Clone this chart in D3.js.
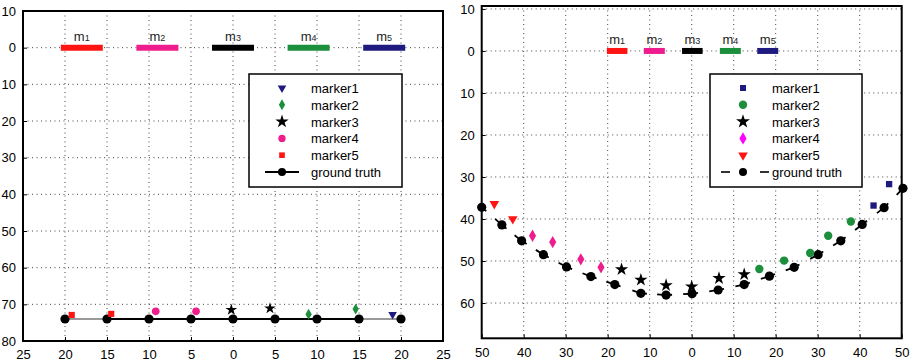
<!DOCTYPE html>
<html>
<head>
<meta charset="utf-8">
<script src="https://cdn.jsdelivr.net/npm/d3@7"></script>
<style>
  body { margin: 0; background: #fff; }
  svg { display: block; font-family: "Liberation Sans", Arial, Helvetica, sans-serif; }
</style>
</head>
<body>
<div id="chart"></div>
<script>
// ---- data ----
const barLabels = ["m", "m", "m", "m", "m"];
const barSubs = ["1", "2", "3", "4", "5"];
const barColors = ["#ff1414", "#ee1c8c", "#000000", "#1b8f3c", "#1f1a80"];
const leftBarFrom = [-20.5, -11.5, -2.5, 6.5, 15.5];
const leftBarTo = [-15.5, -6.5, 2.5, 11.5, 20.5];
const rightBarFrom = [-20.2, -11.4, -2.3, 6.7, 15.6];
const rightBarTo = [-15.3, -6.4, 2.6, 11.7, 20.6];

const legendNames = ["marker1", "marker2", "marker3", "marker4", "marker5", "ground truth"];

// left panel
const leftXTicks = [-25, -20, -15, -10, -5, 0, 5, 10, 15, 20, 25];
const leftYTicks = [-10, 0, 10, 20, 30, 40, 50, 60, 70, 80];
const leftTruthX = [-20, -15, -10, -5, 0, 5, 10, 15, 20];
const leftTruthY = [74, 74, 74, 74, 74, 74, 74, 74, 74];
const leftMarker1 = [[19.0, 72.8]];
const leftMarker2 = [[9.0, 72.7], [14.6, 71.3]];
const leftMarker3 = [[-0.2, 71.5], [4.4, 71.1]];
const leftMarker4 = [[-9.2, 71.9], [-4.4, 71.9]];
const leftMarker5 = [[-19.2, 72.9], [-14.5, 72.6]];

// right panel
const rightXTicks = [-50, -40, -30, -20, -10, 0, 10, 20, 30, 40, 50];
const rightYTicks = [-10, 0, 10, 20, 30, 40, 50, 60];
const rightTruthX = [-50, -45.2, -40.5, -35.3, -29.8, -24.0, -18.3, -12.1, -6.1, 0.1, 6.3, 12.5, 18.5, 24.4, 30.1, 35.5, 40.6, 45.8, 50.3];
const rightTruthY = [37.2, 41.4, 45.2, 48.5, 51.4, 53.7, 55.6, 57.7, 58.1, 57.8, 56.9, 55.6, 53.6, 51.5, 48.5, 45.2, 41.3, 37.3, 32.7];
const rightMarker1 = [[43.3, 36.8], [47.0, 31.7]];
const rightMarker2 = [[16.1, 51.9], [22.0, 49.9], [28.2, 48.1], [32.5, 44.0], [37.9, 40.6]];
const rightMarker3 = [[-16.7, 52.0], [-12.1, 54.5], [-6.1, 55.8], [0, 56.1], [6.5, 54.1], [12.5, 53.2]];
const rightMarker4 = [[-37.9, 44.0], [-33.1, 45.5], [-26.4, 49.6], [-21.6, 51.5]];
const rightMarker5 = [[-47.0, 36.4], [-42.6, 40.0]];

const svg = d3.select("#chart").append("svg")
  .attr("width", 916)
  .attr("height", 361);

function drawPanel(p) {
  const x = d3.scaleLinear().domain(p.xDomain).range([p.left, p.right]);
  const y = d3.scaleLinear().domain(p.yDomain).range([p.top, p.bottom]);
  const g = svg.append("g");

  // dotted grid
  const grid = g.append("g").attr("stroke", "#444").attr("stroke-width", 1).attr("stroke-dasharray", "1,3.5");
  grid.selectAll(".vg").data(p.xTicks.slice(1, -1)).join("line")
    .attr("x1", d => x(d)).attr("x2", d => x(d))
    .attr("y1", p.top).attr("y2", p.bottom);
  grid.selectAll(".hg").data(p.yTicks.filter(d => y(d) > p.top + 2 && y(d) < p.bottom - 2)).join("line")
    .attr("x1", p.left).attr("x2", p.right)
    .attr("y1", d => y(d)).attr("y2", d => y(d));

  // axes with inward ticks, labels as absolute values
  const fmt = d => Math.abs(d);
  g.append("g").attr("transform", `translate(0,${p.bottom})`)
    .call(d3.axisBottom(x).tickValues(p.xTicks).tickFormat(fmt).tickSizeInner(-4).tickSizeOuter(0).tickPadding(9))
    .call(a => a.select(".domain").remove())
    .call(a => a.selectAll("text").attr("font-size", 13).attr("fill", "#000"));
  g.append("g").attr("transform", `translate(${p.left},0)`)
    .call(d3.axisLeft(y).tickValues(p.yTicks).tickFormat(fmt).tickSizeInner(-4).tickSizeOuter(0).tickPadding(7))
    .call(a => a.select(".domain").remove())
    .call(a => a.selectAll("text").attr("font-size", 13).attr("fill", "#000"));

  // box
  g.append("rect")
    .attr("x", p.left).attr("y", p.top)
    .attr("width", p.right - p.left).attr("height", p.bottom - p.top)
    .attr("fill", "none").attr("stroke", "#000").attr("stroke-width", 2);

  // bars m1..m5 at y = 0
  const bars = barLabels.map((l, i) => ({ l, s: barSubs[i], c: barColors[i], a: p.barFrom[i], b: p.barTo[i] }));
  g.selectAll(".bar").data(bars).join("line")
    .attr("x1", d => x(d.a)).attr("x2", d => x(d.b))
    .attr("y1", y(0)).attr("y2", y(0))
    .attr("stroke", d => d.c).attr("stroke-width", 6);
  const lbl = g.selectAll(".blbl").data(bars).join("text")
    .attr("x", d => x((d.a + d.b) / 2)).attr("y", y(0) - 7)
    .attr("text-anchor", "middle").attr("font-size", 13).attr("fill", "#222");
  lbl.append("tspan").text(d => d.l);
  lbl.append("tspan").attr("font-size", 9).text(d => d.s);

  p.drawTruth(g, x, y);

  // markers
  p.markers.forEach(m => {
    g.selectAll(null).data(m.data).join("path")
      .attr("transform", d => `translate(${x(d[0])},${y(d[1])}) rotate(${m.rot || 0})`)
      .attr("d", d3.symbol(m.type, m.size))
      .attr("fill", m.color);
  });

  // legend
  const lg = g.append("g");
  lg.append("rect")
    .attr("x", p.legend.x).attr("y", p.legend.y)
    .attr("width", p.legend.w).attr("height", p.legend.h)
    .attr("fill", "#fff").attr("stroke", "#000").attr("stroke-width", 1.5);
  const rowY = i => p.legend.y + 14 + i * 16.8;
  const symX = p.legend.x + 33;
  p.legendMarkers.forEach((m, i) => {
    lg.append("path")
      .attr("transform", `translate(${symX},${rowY(i)}) rotate(${m.rot || 0})`)
      .attr("d", d3.symbol(m.type, m.size))
      .attr("fill", m.color);
  });
  lg.selectAll(".lt").data(legendNames).join("text")
    .attr("x", p.legend.x + p.legend.textDx)
    .attr("y", (d, i) => rowY(i) + 5)
    .attr("font-size", 13).attr("fill", "#000")
    .text(d => d);
  p.drawTruthLegend(lg, symX, rowY(5));
}

// left panel
drawPanel({
  left: 23, right: 443, top: 11, bottom: 341,
  xDomain: [-25, 25], yDomain: [-10, 80],
  xTicks: leftXTicks, yTicks: leftYTicks,
  barFrom: leftBarFrom, barTo: leftBarTo,
  drawTruth: (g, x, y) => {
    const pts = leftTruthX.map((v, i) => [v, leftTruthY[i]]);
    const line = d3.line().x(d => x(d[0])).y(d => y(d[1]));
    g.append("path").attr("d", line(pts)).attr("fill", "none").attr("stroke", "#777").attr("stroke-width", 1.5);
    g.append("path").attr("d", line(pts.slice(1, -1))).attr("fill", "none").attr("stroke", "#000").attr("stroke-width", 2);
    g.selectAll(".gt").data(pts).join("circle")
      .attr("cx", d => x(d[0])).attr("cy", d => y(d[1])).attr("r", 4.6).attr("fill", "#000");
  },
  markers: [
    { data: leftMarker1, type: d3.symbolTriangle, size: 32, rot: 180, color: "#1f1a80" },
    { data: leftMarker2, type: d3.symbolDiamond, size: 34, color: "#1b8f3c" },
    { data: leftMarker3, type: d3.symbolStar, size: 42, color: "#000" },
    { data: leftMarker4, type: d3.symbolCircle, size: 46, color: "#ee1c8c" },
    { data: leftMarker5, type: d3.symbolSquare, size: 38, color: "#ff1414" }
  ],
  legend: { x: 249, y: 74, w: 153, h: 113, textDx: 62 },
  legendMarkers: [
    { type: d3.symbolTriangle, size: 32, rot: 180, color: "#1f1a80" },
    { type: d3.symbolDiamond, size: 34, color: "#1b8f3c" },
    { type: d3.symbolStar, size: 55, color: "#000" },
    { type: d3.symbolCircle, size: 42, color: "#ee1c8c" },
    { type: d3.symbolSquare, size: 32, color: "#ff1414" }
  ],
  drawTruthLegend: (lg, cx, cy) => {
    lg.append("line").attr("x1", cx - 17).attr("x2", cx + 17).attr("y1", cy).attr("y2", cy)
      .attr("stroke", "#000").attr("stroke-width", 2);
    lg.append("circle").attr("cx", cx).attr("cy", cy).attr("r", 4).attr("fill", "#000");
  }
});

// right panel
drawPanel({
  left: 481.7, right: 901.7, top: 6, bottom: 338.3,
  xDomain: [-50, 50], yDomain: [-10.7, 68.4],
  xTicks: rightXTicks, yTicks: rightYTicks,
  barFrom: rightBarFrom, barTo: rightBarTo,
  drawTruth: (g, x, y) => {
    const pts = rightTruthX.map((v, i) => [x(v), y(rightTruthY[i])]);
    // dashes centred on each point: a short bit after, a longer bit before
    const after = 6, before = 9;
    const dash = [after];
    for (let i = 0; i < pts.length - 1; i++) {
      const L = Math.hypot(pts[i + 1][0] - pts[i][0], pts[i + 1][1] - pts[i][1]);
      dash.push(Math.max(L - after - before, 0));
      dash.push(before + (i < pts.length - 2 ? after : 0));
    }
    g.append("path").attr("d", d3.line()(pts))
      .attr("fill", "none").attr("stroke", "#000").attr("stroke-width", 1.8)
      .attr("stroke-dasharray", dash.join(","));
    g.selectAll(".gt").data(pts).join("circle")
      .attr("cx", d => d[0]).attr("cy", d => d[1]).attr("r", 4.6).attr("fill", "#000");
  },
  markers: [
    { data: rightMarker1, type: d3.symbolSquare, size: 40, color: "#1f1a80" },
    { data: rightMarker2, type: d3.symbolCircle, size: 55, color: "#1b8f3c" },
    { data: rightMarker3, type: d3.symbolStar, size: 55, color: "#000" },
    { data: rightMarker4, type: d3.symbolDiamond, size: 44, color: "#ee1c8c" },
    { data: rightMarker5, type: d3.symbolTriangle, size: 40, rot: 180, color: "#ff1414" }
  ],
  legend: { x: 710, y: 74, w: 152, h: 113, textDx: 62 },
  legendMarkers: [
    { type: d3.symbolSquare, size: 36, color: "#1f1a80" },
    { type: d3.symbolCircle, size: 55, color: "#1b8f3c" },
    { type: d3.symbolStar, size: 60, color: "#000" },
    { type: d3.symbolDiamond, size: 44, color: "#ff00ff" },
    { type: d3.symbolTriangle, size: 40, rot: 180, color: "#ff1414" }
  ],
  drawTruthLegend: (lg, cx, cy) => {
    [[-22, -13], [17, 26]].forEach(s => {
      lg.append("line").attr("x1", cx + s[0]).attr("x2", cx + s[1]).attr("y1", cy).attr("y2", cy)
        .attr("stroke", "#000").attr("stroke-width", 1.6);
    });
    lg.append("circle").attr("cx", cx).attr("cy", cy).attr("r", 4).attr("fill", "#000");
  }
});
</script>
</body>
</html>
